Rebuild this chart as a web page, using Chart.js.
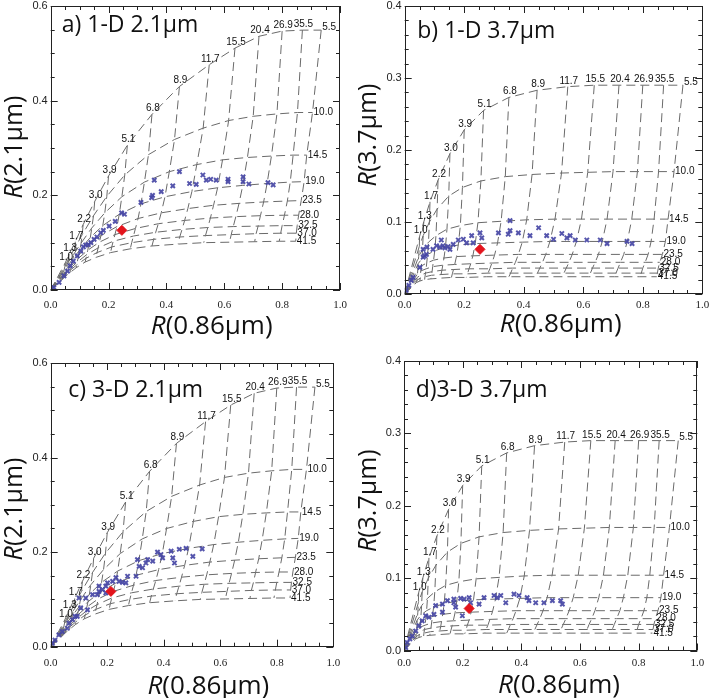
<!DOCTYPE html>
<html><head><meta charset="utf-8">
<script src="https://cdn.jsdelivr.net/npm/chart.js@4.4.1/dist/chart.umd.min.js"></script>
<style>
html,body{margin:0;padding:0;background:#fff;}
#wrap{position:relative;width:709px;height:698px;overflow:hidden;background:#fff;}
canvas{position:absolute;}
</style></head><body>
<div id="wrap">
<canvas id="ca" width="354" height="349" style="left:0;top:0"></canvas>
<canvas id="cb" width="355" height="349" style="left:354px;top:0"></canvas>
<canvas id="cc" width="354" height="349" style="left:0;top:349px"></canvas>
<canvas id="cd" width="355" height="349" style="left:354px;top:349px"></canvas>
</div>
<script>
// ---------------- DATA ----------------
const tauValues = [1.0,1.3,1.7,2.2,3.0,3.9,5.1,6.8,8.9,11.7,15.5,20.4,26.9,35.5,46.8];
const tauLabels = ['1.0','1.3','1.7','2.2','3.0','3.9','5.1','6.8','8.9','11.7','15.5','20.4','26.9','35.5'];
const reValues = [5.5,10.0,14.5,19.0,23.5,28.0,32.5,37.0,41.5];
const reLabels = ['5.5','10.0','14.5','19.0','23.5','28.0','32.5','37.0','41.5'];
const originR = 0;

// R(0.86um) of the look-up table, one row per effective radius (columns follow tauValues)
const r086_re05 = [0.050,0.064,0.085,0.112,0.152,0.200,0.265,0.350,0.445,0.548,0.637,0.720,0.800,0.870,0.935];
const r086_re10 = [0.049,0.062,0.083,0.109,0.148,0.194,0.256,0.338,0.428,0.527,0.615,0.700,0.782,0.853,0.905];
const r086_re14 = [0.047,0.060,0.080,0.105,0.142,0.187,0.246,0.324,0.410,0.505,0.594,0.680,0.763,0.838,0.885];
const r086_re19 = [0.045,0.058,0.077,0.101,0.137,0.180,0.237,0.312,0.395,0.488,0.577,0.664,0.748,0.828,0.876];
const r086_re23 = [0.044,0.056,0.074,0.097,0.132,0.174,0.229,0.302,0.382,0.474,0.563,0.651,0.736,0.818,0.866];
const r086_re28 = [0.043,0.054,0.072,0.094,0.128,0.168,0.222,0.293,0.372,0.463,0.552,0.640,0.725,0.808,0.857];
const r086_re32 = [0.042,0.053,0.070,0.092,0.125,0.164,0.216,0.286,0.363,0.454,0.543,0.631,0.717,0.800,0.852];
const r086_re37 = [0.041,0.052,0.068,0.090,0.122,0.160,0.211,0.280,0.356,0.446,0.535,0.624,0.710,0.795,0.849];
const r086_re41 = [0.040,0.051,0.067,0.088,0.119,0.157,0.207,0.275,0.350,0.440,0.529,0.618,0.705,0.790,0.847];

// R(2.1um)
const r21_re05 = [0.057,0.076,0.102,0.138,0.187,0.241,0.306,0.371,0.430,0.476,0.511,0.536,0.547,0.549,0.549];
const r21_re10 = [0.050,0.066,0.088,0.117,0.157,0.198,0.243,0.286,0.318,0.342,0.358,0.367,0.372,0.375,0.375];
const r21_re14 = [0.044,0.058,0.076,0.099,0.131,0.163,0.197,0.228,0.250,0.265,0.275,0.280,0.283,0.285,0.285];
const r21_re19 = [0.039,0.051,0.066,0.085,0.111,0.136,0.160,0.182,0.197,0.208,0.216,0.221,0.225,0.228,0.229];
const r21_re23 = [0.034,0.045,0.058,0.074,0.095,0.115,0.134,0.151,0.163,0.172,0.179,0.183,0.186,0.188,0.189];
const r21_re28 = [0.031,0.040,0.052,0.066,0.084,0.101,0.117,0.130,0.140,0.147,0.152,0.155,0.157,0.158,0.158];
const r21_re32 = [0.028,0.036,0.047,0.059,0.075,0.089,0.103,0.114,0.122,0.128,0.132,0.134,0.135,0.136,0.136];
const r21_re37 = [0.025,0.033,0.042,0.053,0.067,0.079,0.091,0.100,0.107,0.112,0.115,0.117,0.119,0.120,0.120];
const r21_re41 = [0.022,0.029,0.037,0.047,0.059,0.069,0.079,0.087,0.093,0.097,0.100,0.101,0.102,0.103,0.103];

// R(3.7um)
const r37_re05 = [0.080,0.100,0.128,0.158,0.195,0.228,0.255,0.273,0.283,0.288,0.290,0.290,0.290,0.290,0.290];
const r37_re10 = [0.066,0.081,0.100,0.118,0.136,0.148,0.157,0.163,0.166,0.168,0.169,0.170,0.170,0.170,0.170];
const r37_re14 = [0.052,0.062,0.072,0.081,0.090,0.095,0.099,0.101,0.103,0.104,0.104,0.104,0.104,0.104,0.104];
const r37_re19 = [0.042,0.049,0.055,0.060,0.065,0.068,0.070,0.071,0.072,0.073,0.073,0.073,0.073,0.073,0.073];
const r37_re23 = [0.034,0.039,0.043,0.047,0.050,0.052,0.053,0.054,0.055,0.055,0.055,0.055,0.055,0.055,0.055];
const r37_re28 = [0.028,0.032,0.035,0.038,0.040,0.041,0.042,0.043,0.044,0.044,0.044,0.044,0.044,0.044,0.044];
const r37_re32 = [0.023,0.026,0.029,0.031,0.033,0.034,0.035,0.035,0.036,0.036,0.036,0.036,0.036,0.036,0.036];
const r37_re37 = [0.019,0.022,0.024,0.026,0.027,0.028,0.028,0.029,0.029,0.029,0.029,0.029,0.029,0.029,0.029];
const r37_re41 = [0.016,0.018,0.020,0.021,0.022,0.023,0.023,0.024,0.024,0.024,0.024,0.024,0.024,0.024,0.024];

// observed reflectances (blue crosses) and mean (red diamond)
const aX = [0.011,0.029,0.046,0.058,0.067,0.078,0.092,0.104,0.113,0.121,0.130,0.139,0.150,0.160,0.173,0.182,0.202,0.223,0.245,0.255,0.312,0.349,0.352,0.358,0.382,0.422,0.445,0.480,0.503,0.526,0.538,0.553,0.572,0.613,0.613,0.665,0.665,0.685,0.751,0.769];
const aY = [0.005,0.016,0.030,0.040,0.051,0.061,0.072,0.082,0.091,0.095,0.096,0.100,0.107,0.112,0.121,0.126,0.135,0.145,0.163,0.160,0.185,0.195,0.200,0.232,0.208,0.220,0.250,0.225,0.223,0.243,0.232,0.234,0.232,0.234,0.229,0.239,0.229,0.224,0.227,0.222];
const aRed = [0.246, 0.126];

const bX = [0.005,0.014,0.022,0.028,0.051,0.062,0.067,0.073,0.062,0.075,0.095,0.107,0.118,0.129,0.135,0.146,0.152,0.123,0.163,0.180,0.197,0.208,0.225,0.230,0.253,0.259,0.315,0.348,0.354,0.354,0.382,0.421,0.450,0.477,0.500,0.528,0.545,0.556,0.573,0.612,0.657,0.680,0.747,0.764];
const bY = [0.005,0.012,0.019,0.023,0.037,0.051,0.053,0.055,0.062,0.065,0.062,0.067,0.065,0.067,0.064,0.066,0.062,0.075,0.069,0.075,0.076,0.071,0.081,0.071,0.085,0.078,0.085,0.083,0.088,0.102,0.085,0.081,0.092,0.081,0.076,0.084,0.078,0.081,0.075,0.075,0.075,0.070,0.073,0.070];
const bRed = [0.253, 0.062];

const cX = [0.006,0.015,0.029,0.041,0.059,0.065,0.077,0.086,0.094,0.106,0.130,0.100,0.124,0.148,0.165,0.171,0.183,0.171,0.195,0.201,0.195,0.219,0.231,0.242,0.254,0.272,0.266,0.302,0.307,0.313,0.325,0.337,0.343,0.361,0.378,0.390,0.396,0.426,0.432,0.438,0.455,0.479,0.503,0.536];
const cY = [0.007,0.014,0.025,0.032,0.039,0.050,0.057,0.064,0.064,0.082,0.078,0.103,0.103,0.110,0.110,0.117,0.121,0.128,0.128,0.135,0.114,0.138,0.146,0.138,0.136,0.149,0.135,0.149,0.184,0.170,0.167,0.177,0.184,0.181,0.200,0.195,0.188,0.202,0.188,0.177,0.206,0.208,0.191,0.207];
const cRed = [0.213, 0.117];

const dX = [0.006,0.011,0.020,0.028,0.040,0.051,0.062,0.074,0.085,0.102,0.131,0.108,0.131,0.170,0.148,0.170,0.193,0.176,0.205,0.199,0.222,0.227,0.256,0.273,0.307,0.318,0.330,0.347,0.375,0.392,0.420,0.426,0.449,0.477,0.506,0.534,0.540];
const dY = [0.004,0.011,0.016,0.020,0.027,0.034,0.041,0.048,0.046,0.050,0.053,0.062,0.064,0.066,0.069,0.071,0.072,0.060,0.071,0.048,0.073,0.066,0.064,0.073,0.076,0.073,0.076,0.066,0.078,0.076,0.073,0.069,0.066,0.066,0.069,0.069,0.064];
const dRed = [0.222, 0.058];

const xTickLabels = ['0.0','0.2','0.4','0.6','0.8','1.0'];

// ---------------- BUILD ----------------
const r086Rows = [r086_re05,r086_re10,r086_re14,r086_re19,r086_re23,r086_re28,r086_re32,r086_re37,r086_re41];
const r21Rows = [r21_re05,r21_re10,r21_re14,r21_re19,r21_re23,r21_re28,r21_re32,r21_re37,r21_re41];
const r37Rows = [r37_re05,r37_re10,r37_re14,r37_re19,r37_re23,r37_re28,r37_re32,r37_re37,r37_re41];

const GRID = {showLine:true, borderColor:'#6a6a6a', borderWidth:1, borderDash:[9,5], pointRadius:0, fill:false, tension:0};

function buildDatasets(yRows, bx, by, red){
  const ds = [];
  ds.push({data:[{x:red[0], y:red[1]}], pointStyle:'rectRot', pointRadius:5, backgroundColor:'#e3141c', borderColor:'#e3141c', borderWidth:1});
  ds.push({data:bx.map((v,i)=>({x:v, y:by[i]})), pointStyle:'crossRot', pointRadius:3, borderWidth:2, borderColor:'rgba(70,70,165,0.92)', backgroundColor:'rgba(70,70,165,0.92)'});
  for (let r=0;r<reValues.length;r++){
    const pts=[{x:originR, y:originR}];
    for (let t=0;t<tauValues.length;t++) pts.push({x:r086Rows[r][t], y:yRows[r][t]});
    ds.push(Object.assign({data:pts}, GRID));
  }
  for (let t=0;t<tauValues.length;t++){
    const pts=[];
    for (let r=0;r<reValues.length;r++) pts.push({x:r086Rows[r][t], y:yRows[r][t]});
    ds.push(Object.assign({data:pts}, GRID));
  }
  return ds;
}

function drawRTitle(ctx, rest, cx, cy, rotate, size){
  ctx.save();
  ctx.translate(cx, cy);
  if (rotate) ctx.rotate(-Math.PI/2);
  const fi = 'italic ' + size + 'px "Open Sans"', fn = size + 'px "Open Sans"';
  ctx.font = fi; const w1 = ctx.measureText('R').width;
  ctx.font = fn; const w2 = ctx.measureText(rest).width;
  const x0 = -(w1+w2)/2;
  ctx.fillStyle = '#111';
  ctx.textBaseline = 'middle'; ctx.textAlign = 'left';
  ctx.font = fi; ctx.fillText('R', x0, 0);
  ctx.font = fn; ctx.fillText(rest, x0+w1, 0);
  ctx.restore();
}

const decor = {
  id:'decor',
  afterDraw(chart){
    const p = chart.options.plugins.decor;
    const {ctx, chartArea:a} = chart;
    const xs = chart.scales.x, ys = chart.scales.y;
    ctx.save();
    // frame
    ctx.strokeStyle = '#222'; ctx.lineWidth = 1;
    ctx.strokeRect(Math.round(a.left)+0.5, Math.round(a.top)+0.5, Math.round(a.right-a.left)-1, Math.round(a.bottom-a.top)-1);
    // inward ticks on all four sides
    ctx.beginPath();
    for (let i=0;i<=20;i++){
      const v = i*0.05, px = Math.round(xs.getPixelForValue(v))+0.5;
      const len = (i%4===0)?7:4;
      ctx.moveTo(px, a.bottom); ctx.lineTo(px, a.bottom-len);
      ctx.moveTo(px, a.top); ctx.lineTo(px, a.top+len);
    }
    const nMinor = Math.round(p.yMax/p.yMinor), per = Math.round(p.yStep/p.yMinor);
    for (let i=0;i<=nMinor;i++){
      const v = i*p.yMinor, py = Math.round(ys.getPixelForValue(v))+0.5;
      const len = (i%per===0)?7:4;
      ctx.moveTo(a.left, py); ctx.lineTo(a.left+len, py);
      ctx.moveTo(a.right, py); ctx.lineTo(a.right-len, py);
    }
    ctx.stroke();
    // grid labels
    ctx.fillStyle = '#111';
    ctx.font = '10px "Liberation Sans"';
    ctx.textAlign = 'center'; ctx.textBaseline = 'alphabetic';
    for (let t=0;t<tauLabels.length;t++){
      const px = xs.getPixelForValue(r086Rows[0][t]);
      const py = ys.getPixelForValue(p.yRows[0][t]);
      ctx.fillText(tauLabels[t], px+1, py-3);
    }
    ctx.textAlign = 'left'; ctx.textBaseline = 'middle';
    const last = tauValues.length-1;
    for (let r=0;r<reLabels.length;r++){
      const px = xs.getPixelForValue(r086Rows[r][last]);
      const py = ys.getPixelForValue(p.yRows[r][last]);
      ctx.fillText(reLabels[r], px+1, py-(r===0?3:0));
    }
    // panel title
    ctx.font = '23px "Open Sans"'; ctx.textAlign='left'; ctx.textBaseline='alphabetic';
    ctx.fillText(p.title, p.titleX, p.titleY);
    ctx.restore();
    drawRTitle(ctx, '(0.86μm)', p.xTitle[0], p.xTitle[1], false, 26);
    drawRTitle(ctx, p.yLab, p.yTitle[0], p.yTitle[1], true, 25);
  }
};

const panels = [
 {id:'ca', L:50.7, T:4, R:14, B:59, yMax:0.6, yStep:0.2, yMinor:0.05, xPad:9, yRows:r21Rows, bx:aX, by:aY, red:aRed,
  title:'a) 1-D 2.1μm', titleX:61.7, titleY:31.7, yLab:'(2.1μm)', xTitle:[211.7,327], yTitle:[15,147]},
 {id:'cb', L:50.7, T:5, R:6.7, B:55, yMax:0.4, yStep:0.1, yMinor:0.02, xPad:5, yRows:r37Rows, bx:bX, by:bY, red:bRed,
  title:'b) 1-D 3.7μm', titleX:63.3, titleY:37.7, yLab:'(3.7μm)', xTitle:[206.7,325], yTitle:[15,135]},
 {id:'cc', L:50.7, T:14, R:20.7, B:51.3, yMax:0.6, yStep:0.2, yMinor:0.05, xPad:9.5, yRows:r21Rows, bx:cX, by:cY, red:cRed,
  title:'c) 3-D 2.1μm', titleX:68.3, titleY:48.3, yLab:'(2.1μm)', xTitle:[208.3,337.5], yTitle:[15,160]},
 {id:'cd', L:50, T:12, R:11.7, B:47.5, yMax:0.4, yStep:0.1, yMinor:0.02, xPad:6, yRows:r37Rows, bx:dX, by:dY, red:dRed,
  title:'d)3-D 3.7μm', titleX:61.7, titleY:48.3, yLab:'(3.7μm)', xTitle:[205,337], yTitle:[15,151.7]}
];

panels.forEach(p=>{
  new Chart(document.getElementById(p.id), {
    type:'scatter',
    data:{datasets:buildDatasets(p.yRows, p.bx, p.by, p.red)},
    plugins:[decor],
    options:{
      responsive:false, animation:false, events:[], devicePixelRatio:1,
      layout:{padding:{left:0, top:p.T, right:p.R, bottom:0}},
      plugins:{legend:{display:false}, tooltip:{enabled:false}, decor:p},
      scales:{
        x:{type:'linear', min:0, max:1, grid:{display:false, drawTicks:false}, border:{display:false},
           ticks:{stepSize:0.2, padding:p.xPad, maxRotation:0, color:'#222', font:{family:'"Liberation Serif"', size:11},
                  callback:(v)=>{const i=Math.round(v/0.2); return Math.abs(v-i*0.2)<1e-6 ? xTickLabels[i] : '';}},
           afterFit:(s)=>{s.height=p.B; s.paddingLeft=0; s.paddingRight=0;}},
        y:{type:'linear', min:0, max:p.yMax, grid:{display:false, drawTicks:false}, border:{display:false},
           ticks:{stepSize:p.yStep, padding:3, color:'#222', font:{family:'"Liberation Sans"', size:11},
                  callback:(v)=>v.toFixed(1)},
           afterFit:(s)=>{s.width=p.L; s.paddingTop=0; s.paddingBottom=0;}}
      }
    }
  });
});
</script>
</body></html>
